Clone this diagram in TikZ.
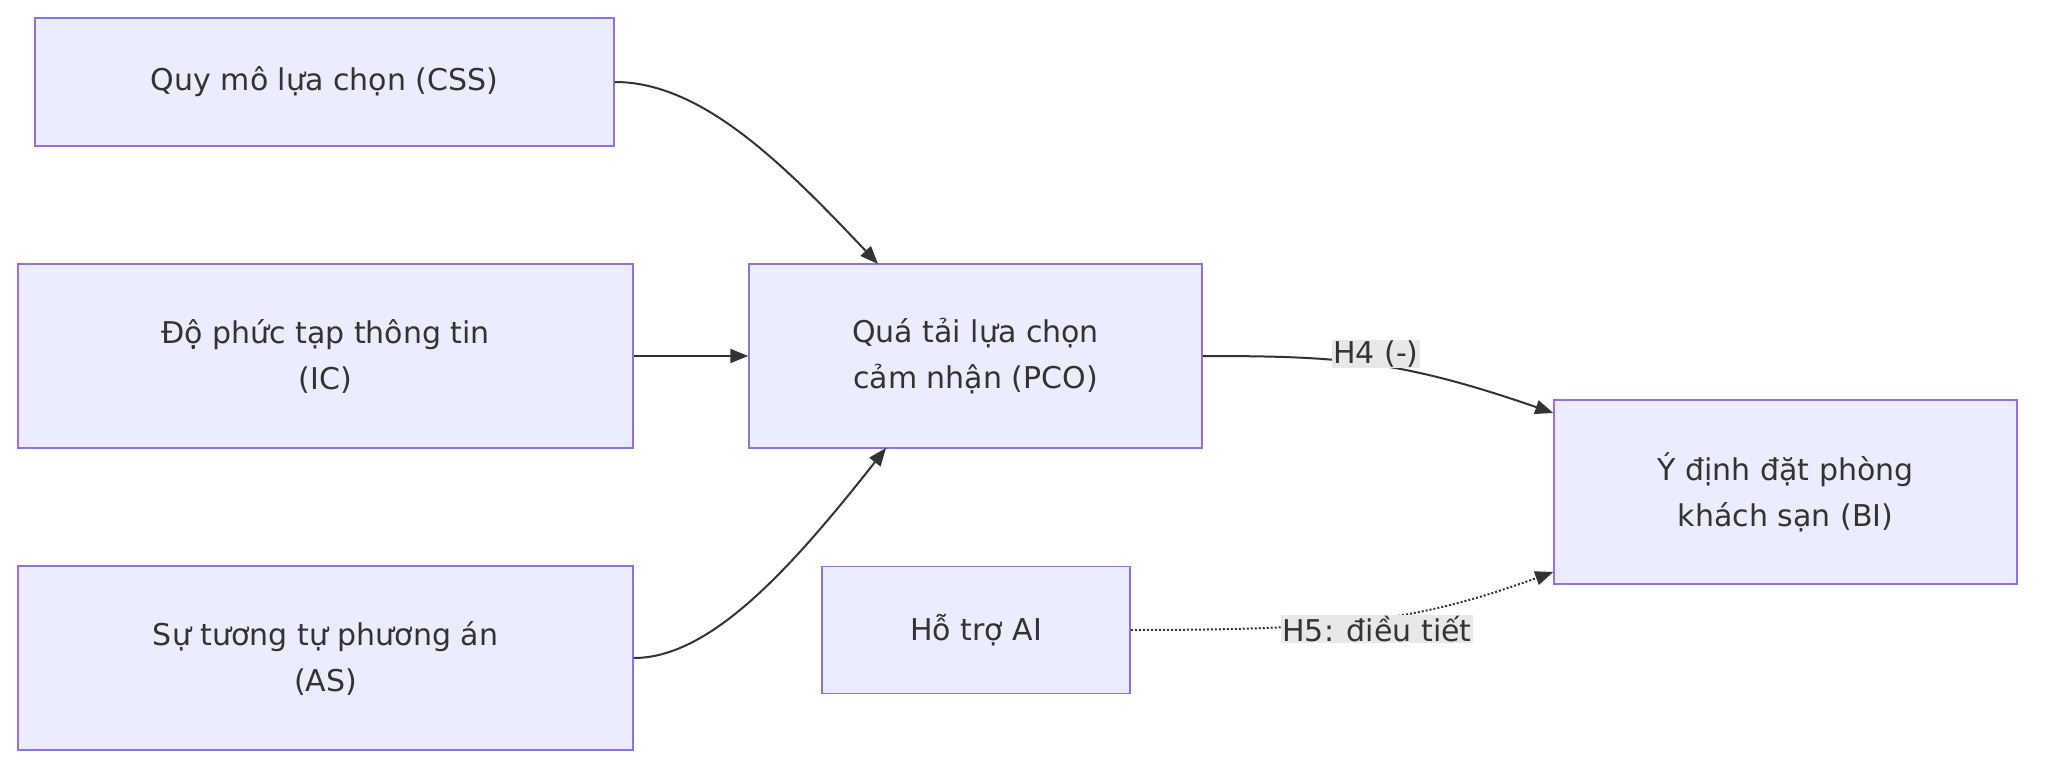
\documentclass[tikz,border=0pt]{standalone}
\usepackage{fontspec}
\setmainfont{DejaVu Sans}
\definecolor{boxfill}{HTML}{ECECFF}
\definecolor{boxline}{HTML}{9370DB}
\definecolor{lblfill}{HTML}{E8E8E8}
\definecolor{ink}{HTML}{333333}
\usetikzlibrary{arrows.meta}
\tikzset{
  box/.style={draw=boxline, fill=boxfill, line width=1.5pt, text=ink, align=center, font=\fontsize{30}{46}\selectfont, inner sep=0pt},
  lbl/.style={fill=lblfill, text=ink, font=\fontsize{30}{36}\selectfont, inner sep=1pt},
  link/.style={draw=ink, line width=2pt, -{Triangle[length=18pt,width=14pt]}}
}
\begin{document}
\begin{tikzpicture}[x=1pt, y=-1pt]
\useasboundingbox (0,0) rectangle (2048,776);
\node (css) [box, minimum width=579pt, minimum height=128pt] at (324.5,82) {Quy mô lựa chọn (CSS)};
\node (ic) [box, minimum width=615pt, minimum height=184pt] at (325.5,356) {Độ phức tạp thông tin\\(IC)};
\node (as) [box, minimum width=615pt, minimum height=184pt] at (325.5,658) {Sự tương tự phương án\\(AS)};
\node (pco) [box, minimum width=453pt, minimum height=184pt] at (975.5,356) {Quá tải lựa chọn\\cảm nhận (PCO)};
\node (ai) [box, minimum width=308pt, minimum height=127pt] at (976,630) {Hỗ trợ AI};
\node (bi) [box, minimum width=463pt, minimum height=184pt] at (1785.5,492) {Ý định đặt phòng\\khách sạn (BI)};
\coordinate (css out) at (css.east);
\coordinate (as out) at (as.east);
\draw [link] (css out) .. controls (700,82) and (780,160) .. (878,264);
\draw [link] (ic) -- (pco);
\draw [link] (as out) .. controls (710,658) and (790,570) .. (886,448);
\draw [link] (pco.east) .. controls (1340,356) and (1400,360) .. (bi.west |- 0,413) coordinate (bi in);
\draw [link, dotted] (ai.east) .. controls (1350,630) and (1420,620) .. (bi.west |- 0,572) coordinate (bi low);
\node (h4) [lbl] at (1376,354) {H4 (-)};
\node (h5) [lbl] at (1377,629) {H5: điều tiết};
\end{tikzpicture}
\end{document}
